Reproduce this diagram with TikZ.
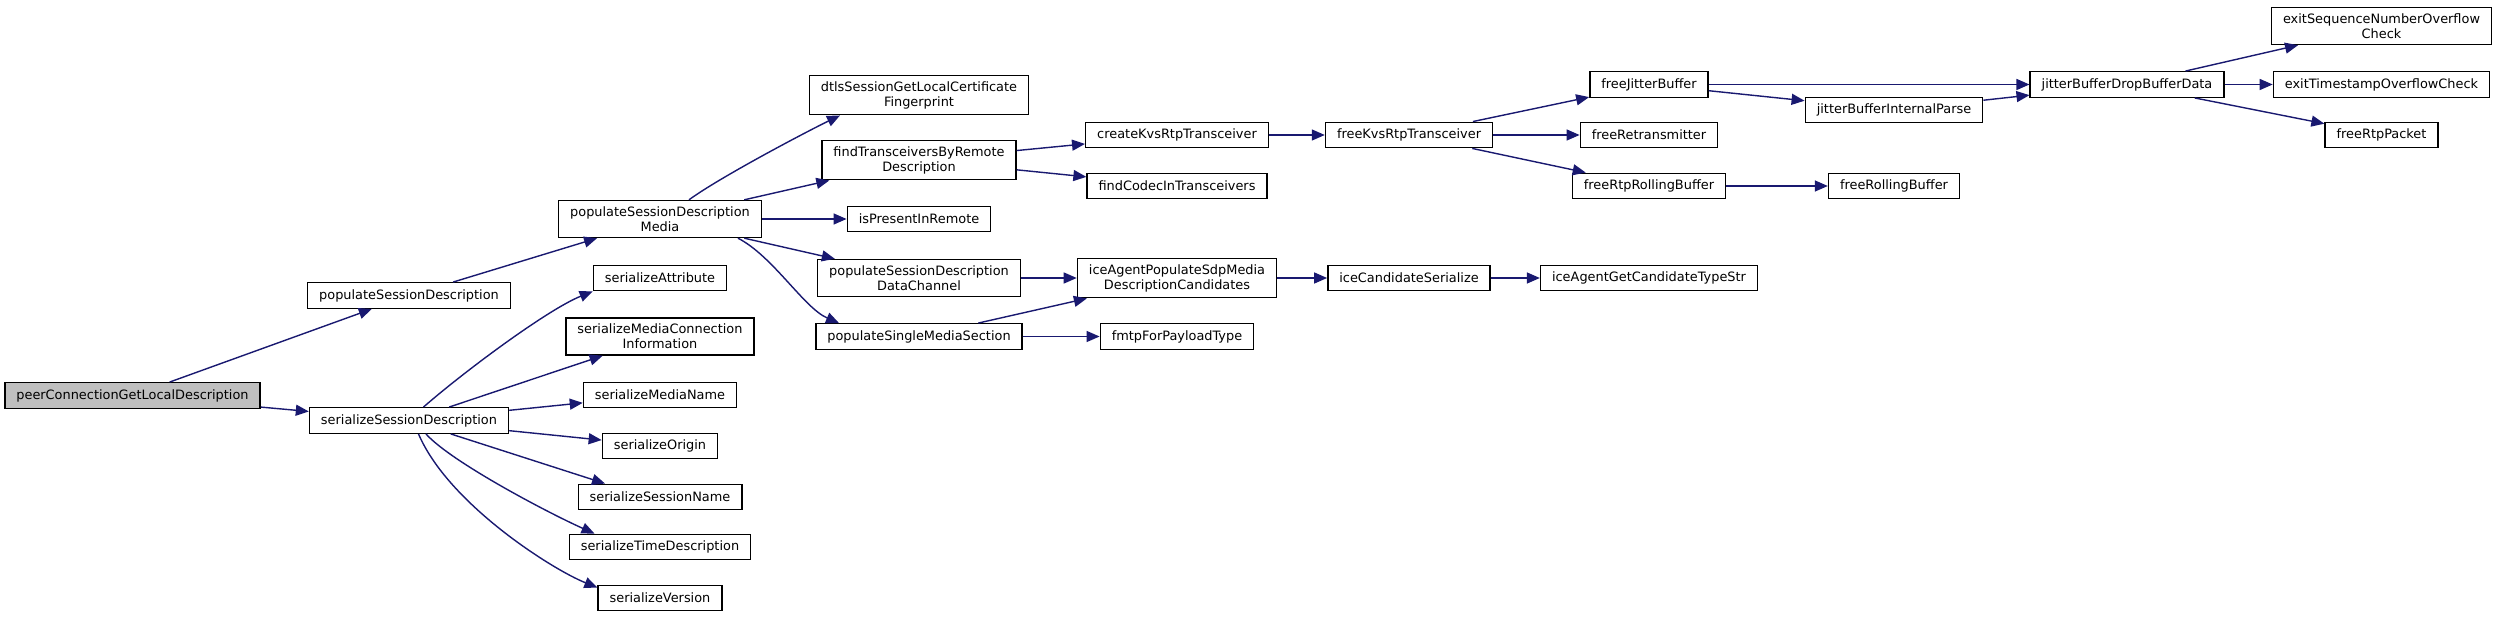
\documentclass[tikz,border=0pt]{standalone}
\usepackage{fontspec}
\setmainfont{DejaVu Sans}
\usepackage{tikz}
\usetikzlibrary{arrows.meta}
\definecolor{edgeblue}{RGB}{25,25,112}
\definecolor{rootgray}{RGB}{191,191,191}

\begin{document}
\begin{tikzpicture}[
  x=1pt, y=-1pt,
  font=\fontsize{12.9}{15}\selectfont,
  fn/.style={draw, line width=1.4pt, fill=white, align=center, inner xsep=11.5pt, inner ysep=6pt, minimum height=25.5pt},
  root/.style={fn, fill=rootgray},
  arr/.style={-{Triangle[length=13pt,width=11pt]}, draw=edgeblue, line width=1.4pt}
]
\useasboundingbox (0,0) rectangle (2497,617);
\node[root] (pcgld) at (132.5,395.5) {peerConnectionGetLocalDescription};
\node[fn] (psd) at (409,295.5) {populateSessionDescription};
\node[fn] (ssd) at (409,420.5) {serializeSessionDescription};
\node[fn] (psdm) at (660,219) {populateSessionDescription\\Media};
\node[fn] (sattr) at (660,278) {serializeAttribute};
\node[fn] (smci) at (660,336.5) {serializeMediaConnection\\Information};
\node[fn] (smn) at (660,395) {serializeMediaName};
\node[fn] (sorig) at (660,446) {serializeOrigin};
\node[fn] (ssn) at (660,497) {serializeSessionName};
\node[fn] (std) at (660,547) {serializeTimeDescription};
\node[fn] (sver) at (660,598) {serializeVersion};
\node[fn] (dtls) at (919,95) {dtlsSessionGetLocalCertificate\\Fingerprint};
\node[fn] (ftbr) at (919,160) {findTransceiversByRemote\\Description};
\node[fn] (ipr) at (919,219) {isPresentInRemote};
\node[fn] (psddc) at (919,278) {populateSessionDescription\\DataChannel};
\node[fn] (psms) at (919,336.5) {populateSingleMediaSection};
\node[fn] (ckrt) at (1177,135) {createKvsRtpTransceiver};
\node[fn] (fcit) at (1177,186) {findCodecInTransceivers};
\node[fn] (iapsd) at (1177,278) {iceAgentPopulateSdpMedia\\DescriptionCandidates};
\node[fn] (fmtp) at (1177,336.5) {fmtpForPayloadType};
\node[fn] (fkrt) at (1409,135) {freeKvsRtpTransceiver};
\node[fn] (ics) at (1409,278) {iceCandidateSerialize};
\node[fn] (fjb) at (1649,84.5) {freeJitterBuffer};
\node[fn] (frtx) at (1649,135) {freeRetransmitter};
\node[fn] (frrb) at (1649,186) {freeRtpRollingBuffer};
\node[fn] (iagct) at (1649,278) {iceAgentGetCandidateTypeStr};
\node[fn] (jbip) at (1894,110) {jitterBufferInternalParse};
\node[fn] (frb) at (1894,186) {freeRollingBuffer};
\node[fn] (jbdd) at (2127,84.5) {jitterBufferDropBufferData};
\node[fn] (esno) at (2381.5,26) {exitSequenceNumberOverflow\\Check};
\node[fn] (etoc) at (2381.5,84.5) {exitTimestampOverflowCheck};
\node[fn] (frp) at (2381.5,135) {freeRtpPacket};
\draw[arr] (pcgld) -- (psd);
\draw[arr] (pcgld) -- (ssd);
\draw[arr] (psd) -- (psdm);
\draw[arr] ([xshift=14.5pt]ssd.north) .. controls +(40,-35) and +(-45,18) .. (sattr.south west);
\draw[arr] (ssd) -- (smci);
\draw[arr] (ssd) -- (smn);
\draw[arr] (ssd) -- (sorig);
\draw[arr] (ssd) -- ([xshift=-55pt]ssn.north);
\draw[arr] ([xshift=17pt]ssd.south) .. controls +(25,28) and +(-45,-20) .. ([xshift=-65.5pt]std.north);
\draw[arr] ([xshift=9.5pt]ssd.south) .. controls +(30,70) and +(-45,-18) .. ([yshift=-3pt]sver.north west);
\draw[arr] ([xshift=29pt]psdm.north) .. controls +(30,-22) and +(-35,17) .. ([xshift=-79pt]dtls.south);
\draw[arr] (psdm) -- (ftbr);
\draw[arr] (psdm) -- (ipr);
\draw[arr] (psdm) -- (psddc);
\draw[arr] ([xshift=78pt]psdm.south) .. controls +(35,18) and +(-35,-15) .. ([xshift=-80pt]psms.north);
\draw[arr] (ftbr) -- (ckrt);
\draw[arr] (ftbr) -- (fcit);
\draw[arr] (ckrt) -- (fkrt);
\draw[arr] (psddc) -- (iapsd);
\draw[arr] (psms) -- (iapsd);
\draw[arr] (psms) -- (fmtp);
\draw[arr] (iapsd) -- (ics);
\draw[arr] (ics) -- (iagct);
\draw[arr] (fkrt) -- (fjb);
\draw[arr] (fkrt) -- (frtx);
\draw[arr] (fkrt) -- (frrb);
\draw[arr] (frrb) -- (frb);
\draw[arr] (fjb) -- (jbdd);
\draw[arr] (fjb) -- (jbip);
\draw[arr] (jbip) -- (jbdd);
\draw[arr] (jbdd) -- (esno);
\draw[arr] (jbdd) -- (etoc);
\draw[arr] (jbdd) -- (frp);
\end{tikzpicture}
\end{document}
